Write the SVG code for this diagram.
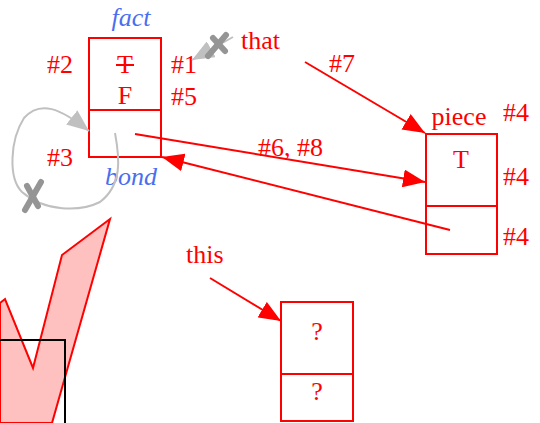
<svg xmlns="http://www.w3.org/2000/svg" width="540" height="423" viewBox="0 0 540 423">
  <style>
    text { font-family: "Liberation Serif", "Times New Roman", serif; font-size: 26px; fill: #ff0000; }
    .mid { text-anchor: middle; }
    .role { font-style: italic; fill: #4a6ef0; }
    .box { fill: none; stroke: #ff0000; stroke-width: 2; }
    .link { fill: none; stroke: #ff0000; stroke-width: 2; }
    .ghost { fill: none; stroke: #c0c0c0; stroke-width: 2; }
    .cross { stroke: #959595; stroke-width: 6; stroke-linecap: round; }
  </style>
  <defs>
    <marker id="head" viewBox="0 0 22 18" refX="22" refY="9" markerWidth="22" markerHeight="18" orient="auto" markerUnits="userSpaceOnUse">
      <path d="M0,0 L22,9 L0,18 Z" fill="#ff0000"/>
    </marker>
    <marker id="ghosthead" viewBox="0 0 22 18" refX="22" refY="9" markerWidth="22" markerHeight="18" orient="auto" markerUnits="userSpaceOnUse">
      <path d="M0,0 L22,9 L0,18 Z" fill="#c0c0c0"/>
    </marker>
  </defs>

  <!-- background shapes -->
  <polygon points="0,303 5,299 33,368 62,255 110,219 52,423 0,423" fill="#ffc0c0" stroke="#ff0000" stroke-width="2"/>
  <rect x="-5" y="340" width="70" height="100" fill="none" stroke="#000000" stroke-width="2"/>

  <!-- fact node -->
  <g id="fact">
    <rect class="box" x="89" y="38" width="72" height="119"/>
    <line class="box" x1="89" y1="110" x2="161" y2="110"/>
    <text class="mid role" x="131" y="26">fact</text>
    <text class="mid" x="125" y="73">T</text>
    <line x1="116" y1="65" x2="134" y2="65" stroke="#ff0000" stroke-width="2"/>
    <text class="mid" x="125" y="104">F</text>
    <text x="47" y="73">#2</text>
    <text x="171" y="73">#1</text>
    <text x="171" y="105">#5</text>
    <text x="47" y="166">#3</text>
    <text class="mid role" x="131" y="185">bond</text>
  </g>

  <!-- piece node -->
  <g id="piece">
    <rect class="box" x="426" y="134" width="71" height="120"/>
    <line class="box" x1="426" y1="206" x2="497" y2="206"/>
    <text class="mid" x="459" y="125">piece</text>
    <text class="mid" x="461" y="168">T</text>
    <text x="503" y="121">#4</text>
    <text x="503" y="185">#4</text>
    <text x="503" y="245">#4</text>
  </g>

  <!-- unknown node -->
  <g id="unknown">
    <rect class="box" x="281" y="302" width="72" height="119"/>
    <line class="box" x1="281" y1="374" x2="353" y2="374"/>
    <text class="mid" x="317" y="340">?</text>
    <text class="mid" x="317" y="400">?</text>
  </g>

  <!-- names -->
  <g id="that">
    <text x="241" y="49">that</text>
  </g>
  <g id="this">
    <text x="186" y="263">this</text>
  </g>

  <!-- connectors -->
  <g id="connectors">
    <line class="link" x1="305" y1="62" x2="425" y2="133" marker-end="url(#head)"/>
    <text x="329" y="72">#7</text>
    <line class="link" x1="135" y1="134" x2="425" y2="182" marker-end="url(#head)"/>
    <text x="258" y="156">#6, #8</text>
    <line class="link" x1="450" y1="230" x2="162" y2="157" marker-end="url(#head)"/>
    <line class="link" x1="210" y1="278" x2="281" y2="321" marker-end="url(#head)"/>

    <!-- removed references -->
    <line class="ghost" x1="233" y1="37" x2="192" y2="60" marker-end="url(#ghosthead)"/>
    <path class="ghost" d="M115,133 C120,160 122,185 100,202 C80,212 45,212 22,192 C8,178 10,140 24,118 C40,100 60,108 89,131" marker-end="url(#ghosthead)"/>
    <g class="cross">
      <line x1="208" y1="56" x2="226" y2="35"/>
      <line x1="213" y1="38" x2="225" y2="51"/>
      <line x1="25" y1="210" x2="41" y2="182"/>
      <line x1="27" y1="186" x2="38" y2="206"/>
    </g>
  </g>
</svg>
